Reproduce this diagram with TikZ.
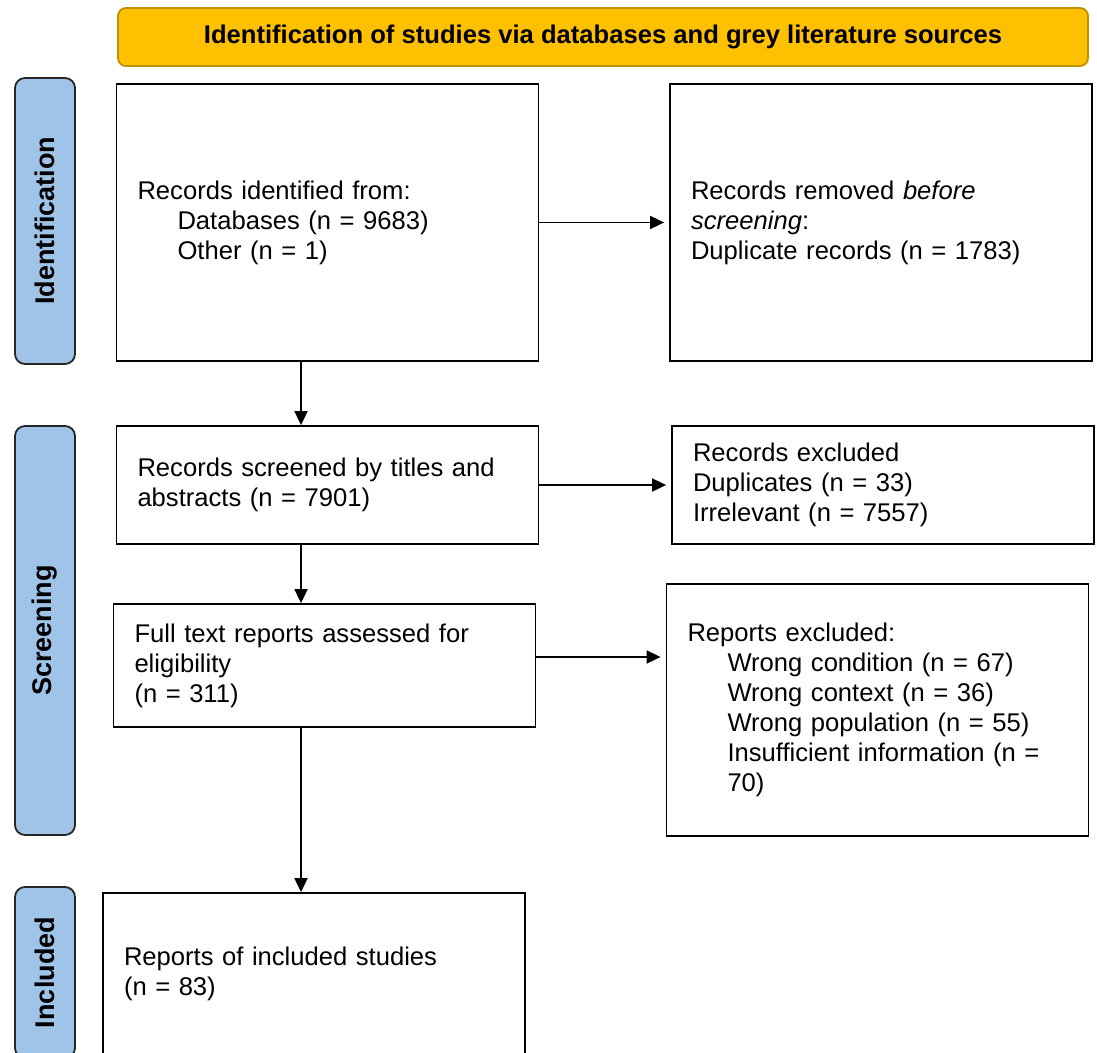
\documentclass[tikz,border=0pt]{standalone}
\usepackage{fontspec}
\setmainfont{Liberation Sans}
\usepackage{tikz}
\usetikzlibrary{arrows.meta}
\definecolor{headgold}{RGB}{255,192,0}
\definecolor{headedge}{RGB}{191,144,0}
\definecolor{phaseblue}{RGB}{160,196,232}
\newcommand{\bodyfont}{\fontsize{12.8}{15}\selectfont}
\newcommand{\Ind}{\hspace*{20pt}}
\tikzset{
  >={Triangle[length=7pt,width=6.5pt]},
  recbox/.style={draw, line width=.9pt, minimum width=211pt, text width=190pt,
    inner xsep=10.5pt, inner ysep=0pt, align=left, font=\bodyfont},
  phase/.style={draw=black!85, line width=.9pt, fill=phaseblue, rounded corners=5pt,
    rotate=90, minimum height=30pt, inner sep=0pt, font=\fontsize{13.5}{15}\selectfont\bfseries},
  head/.style={draw=headedge, fill=headgold, line width=.9pt, rounded corners=4pt,
    minimum width=485pt, minimum height=29pt, font=\fontsize{12.8}{15}\selectfont\bfseries},
  flow/.style={->, line width=.9pt, shorten >=2.5pt}
}

\begin{document}
\begin{tikzpicture}[x=0.5pt,y=-0.5pt]
\useasboundingbox (0,0) rectangle (1097,1053);
%\draw[step=100,gray,very thin] (0,0) grid (1097,1053);

\node[head] (title) at (603,37) {Identification of studies via databases and grey literature sources};

% phases on the left
\node[phase, minimum width=143pt] (phident) at (45,221) {Identification};
\node[phase, minimum width=204.5pt] (phscreen) at (45,630.5) {Screening};
\node[phase, minimum width=85.5pt] (phincl) at (45,972.5) {Included};

% main column
\node[recbox, minimum height=138.5pt] (idrec) at (327.5,222.5)
  {Records identified from:\\ \Ind Databases (n = 9683)\\ \Ind Other (n = 1)};
\node[recbox, minimum height=59pt] (screened) at (327.5,485)
  {Records screened by titles and\\ abstracts (n = 7901)};
\node[recbox, minimum height=61.5pt] (fulltext) at (324.5,665.5)
  {Full text reports assessed for\\ eligibility\\ (n = 311)};
\node[recbox, minimum height=81pt] (included) at (314,974)
  {Reports of included studies\\ (n = 83)};

% right column
\node[recbox, minimum height=138.5pt] (removed) at (881,222.5)
  {Records removed \textit{before}\\ \textit{screening}:\\ Duplicate records (n = 1783)};
\node[recbox, minimum height=59pt] (excluded) at (883,485)
  {Records excluded\\ Duplicates (n = 33)\\ Irrelevant (n = 7557)};
\node[recbox, minimum height=126pt] (repexcl) at (877.5,710)
  {Reports excluded:\\ \Ind Wrong condition (n = 67)\\ \Ind Wrong context (n = 36)\\
   \Ind Wrong population (n = 55)\\ \Ind Insufficient information (n =\\ \Ind 70)};

\coordinate (spine) at (301,0);
\draw[flow, shorten >=0pt] (idrec.south -| spine) -- (screened.north -| spine);
\draw[flow, shorten >=0pt] (screened.south -| spine) -- (fulltext.north -| spine);
\draw[flow, shorten >=0pt] (fulltext.south -| spine) -- (included.north -| spine);

\draw[flow] (idrec) -- (removed);
\draw[flow] (screened) -- (excluded);
\draw[flow] ([yshift=4.25pt]fulltext.east) -- ([yshift=4.25pt]fulltext.east -| repexcl.west);
\end{tikzpicture}
\end{document}
